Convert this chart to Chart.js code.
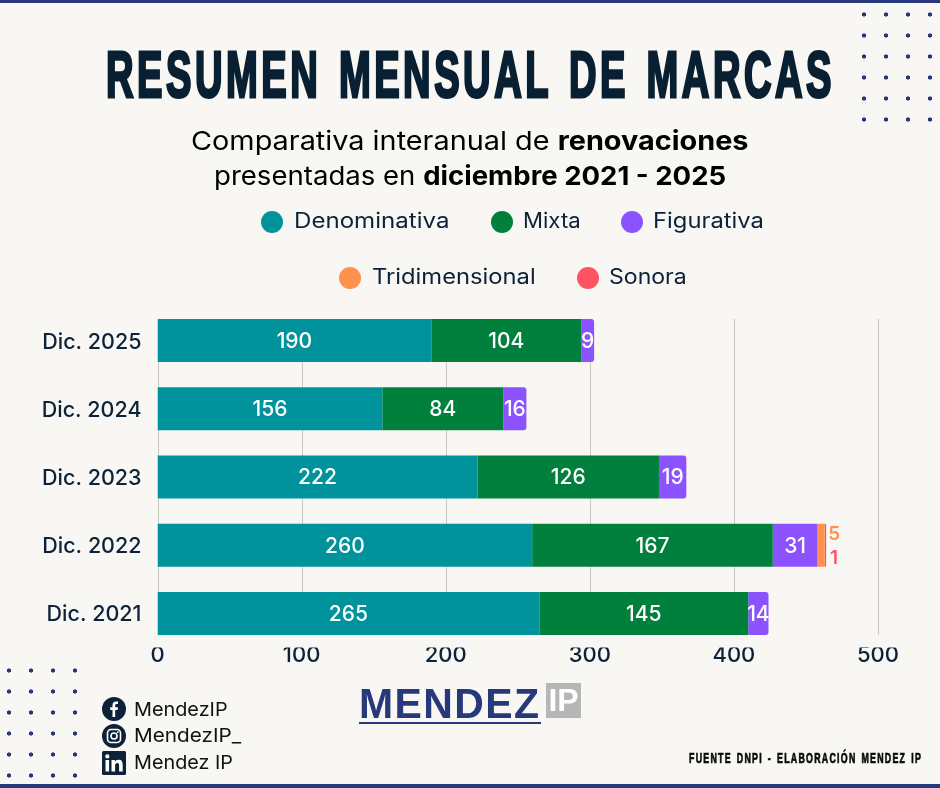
<!DOCTYPE html>
<html lang="es">
<head>
<meta charset="utf-8">
<title>Resumen mensual de marcas</title>
<script src="https://cdn.jsdelivr.net/npm/chart.js@4"></script>
<style>
  html, body { margin: 0; padding: 0; }
  body { width: 940px; height: 788px; position: relative; overflow: hidden; background: #f9f7f4; font-family: Inter, sans-serif; color: #0b2239; }
  .abs { position: absolute; white-space: nowrap; }
  .band { position: absolute; left: 0; width: 940px; background: #27397a; }
  .dots { position: absolute; width: 88px; height: 126px; background: radial-gradient(circle, #27397a 1.8px, transparent 2.4px); background-size: 22px 21px; }
  #title { left: 106px; top: 37px; transform-origin: 0 50%; font: 700 65px "Liberation Sans Narrow", "Liberation Sans", sans-serif; color: #082032; -webkit-text-stroke: 3px #082032; letter-spacing: 6px; word-spacing: 6px; }
  .sub { font-size: 26px; color: #000; transform-origin: 0 50%; line-height: 36px; }
  .sub b { font-weight: 700; }
  .leg-dot { position: absolute; width: 22px; height: 22px; border-radius: 50%; }
  .leg-txt { font-size: 21px; line-height: 28px; transform-origin: 0 50%; }
  .social { font-size: 19px; line-height: 24px; color: #111; transform-origin: 0 50%; }
  #logo { left: 359px; top: 679px; font: 700 43px/48px "Liberation Sans", sans-serif; color: #27397a; letter-spacing: 1.5px; transform-origin: 0 50%; }
  #logo-rule { position: absolute; left: 359px; top: 722px; width: 182px; height: 2px; background: #27397a; }
  #logo-ip { position: absolute; left: 546px; top: 683px; width: 35px; height: 35px; background: #b5b7b6; color: #fff; font: 700 32px/35px "Liberation Sans Narrow", "Liberation Sans", sans-serif; text-align: center; }
  #source { left: 689px; top: 750px; font: 700 14px/16px "Liberation Sans Narrow", "Liberation Sans", sans-serif; color: #0a0a0a; -webkit-text-stroke: .7px #0a0a0a; letter-spacing: 2px; word-spacing: 2px; transform-origin: 0 50%; }
  #chart { position: absolute; left: 0; top: 0; }
</style>
</head>
<body>
<canvas id="chart" width="940" height="788"></canvas>

<div class="band" style="top:0;height:3px"></div>
<div class="band" style="top:784px;height:4px"></div>
<div class="dots" style="left:853px;top:4px"></div>
<div class="dots" style="left:-2px;top:660px"></div>

<div class="abs" id="title" data-fit="729">RESUMEN MENSUAL DE MARCAS</div>
<div class="abs sub" style="left:191px;top:123px" data-fit="558">Comparativa interanual de <b>renovaciones</b></div>
<div class="abs sub" style="left:214px;top:158px" data-fit="512">presentadas en <b>diciembre 2021 - 2025</b></div>

<div id="legend"></div>

<svg class="abs" style="left:102px;top:697px" width="24" height="78" viewBox="0 0 24 78">
  <circle cx="12" cy="12" r="12" fill="#0b2239"/>
  <path d="M13.2 20v-7h2.4l.4-2.8h-2.8V8.5c0-.8.3-1.4 1.4-1.4H16V4.6c-.3 0-1.1-.1-2-.1-2.1 0-3.5 1.3-3.5 3.6v2.1H8.2V13h2.3v7z" fill="#fff"/>
  <circle cx="12" cy="39" r="12" fill="#0b2239"/>
  <rect x="5.5" y="32.5" width="13" height="13" rx="3.5" fill="none" stroke="#fff" stroke-width="1.6"/>
  <circle cx="12" cy="39" r="3" fill="none" stroke="#fff" stroke-width="1.6"/>
  <circle cx="15.8" cy="35.2" r=".9" fill="#fff"/>
  <rect x="0" y="54" width="24" height="24" rx="1.5" fill="#0b2239"/>
  <rect x="3.5" y="63" width="3.6" height="11.5" fill="#fff"/>
  <circle cx="5.3" cy="59.4" r="2.1" fill="#fff"/>
  <path d="M9.5 63h3.4v1.6c.6-1 1.8-1.9 3.6-1.9 3.3 0 4.2 2.1 4.2 5v6.8h-3.6v-6c0-1.5-.4-2.6-1.7-2.6-1.5 0-2.3 1-2.3 2.7v5.9H9.5z" fill="#fff"/>
</svg>
<div class="abs social" style="left:134px;top:698px" data-fit="94">MendezIP</div>
<div class="abs social" style="left:134px;top:724px" data-fit="107">MendezIP_</div>
<div class="abs social" style="left:134px;top:751px" data-fit="99">Mendez IP</div>

<div class="abs" id="logo" data-fit="182">MENDEZ</div>
<div id="logo-rule"></div>
<div id="logo-ip">IP</div>

<div class="abs" id="source" data-fit="233">FUENTE DNPI - ELABORACIÓN MENDEZ IP</div>

<script>
// Datos de renovaciones por año y tipo de marca
const years = ['Dic. 2025', 'Dic. 2024', 'Dic. 2023', 'Dic. 2022', 'Dic. 2021'];
const denominativa = [190, 156, 222, 260, 265];
const mixta = [104, 84, 126, 167, 145];
const figurativa = [9, 16, 19, 31, 14];
const tridimensional = [0, 0, 0, 5, 0];
const sonora = [0, 0, 0, 1, 0];
const xTicks = [0, 100, 200, 300, 400, 500];

const seriesNames = ['Denominativa', 'Mixta', 'Figurativa', 'Tridimensional', 'Sonora'];
const seriesColors = ['#00939c', '#00803c', '#8c52ff', '#ff914d', '#ff5263'];
const seriesValues = [denominativa, mixta, figurativa, tridimensional, sonora];

// Posición de cada entrada de la leyenda: [x punto, x texto, y centro, ancho texto]
const legendSlots = [[261, 294, 222, 156], [491, 523, 222, 58], [621, 653, 222, 111], [339, 372, 278, 164], [577, 609, 278, 78]];

const ink = '#0b2239';
const chartFont = 'Inter, sans-serif';

// Arma la leyenda en dos filas
const legend = document.getElementById('legend');
seriesNames.forEach((name, i) => {
    const [dotX, txtX, cy, w] = legendSlots[i];
    legend.insertAdjacentHTML('beforeend',
        `<div class="leg-dot" style="left:${dotX}px;top:${cy - 11}px;background:${seriesColors[i]}"></div>
         <div class="abs leg-txt" style="left:${txtX}px;top:${cy - 15}px" data-fit="${w}">${name}</div>`);
});

// Ajusta el ancho de los textos al espacio que tienen
document.querySelectorAll('[data-fit]').forEach(el => {
    const target = Number(el.dataset.fit);
    el.style.transform = `scaleX(${target / el.offsetWidth})`;
});

// Último tramo con valor de cada barra (lleva las esquinas redondeadas)
function lastSeries(row){
    let last = 0;
    seriesValues.forEach((s, i) => { if(s[row] > 0) last = i; });
    return last;
}

// Líneas de la grilla más cortas que el área del gráfico
const shortGrid = {
    id: 'shortGrid',
    beforeDatasetsDraw(chart){
        const { ctx, chartArea, scales } = chart;
        ctx.save();
        ctx.strokeStyle = '#c9c8c5';
        ctx.lineWidth = 1;
        xTicks.forEach(t => {
            const x = Math.round(scales.x.getPixelForValue(t)) + 0.5;
            ctx.beginPath();
            ctx.moveTo(x, chartArea.top + 12.5);
            ctx.lineTo(x, chartArea.bottom - 12.5);
            ctx.stroke();
        });
        ctx.restore();
    }
};

// Etiquetas de valor: blancas dentro de la barra, de color al lado en los tramos mínimos
const valueLabels = {
    id: 'valueLabels',
    afterDatasetsDraw(chart){
        const { ctx } = chart;
        ctx.save();
        ctx.textAlign = 'center';
        ctx.textBaseline = 'middle';
        chart.data.datasets.forEach((ds, d) => {
            chart.getDatasetMeta(d).data.forEach((bar, i) => {
                const v = ds.data[i];
                if(!v) return;
                let x = (bar.x + bar.base) / 2;
                let y = bar.y + 1;
                ctx.font = '500 21px ' + chartFont;
                ctx.fillStyle = '#fff';
                if(d >= 3){
                    ctx.font = '600 19px ' + chartFont;
                    ctx.fillStyle = seriesColors[d];
                    x = chart.scales.x.getPixelForValue(464) + 8;
                    y += d == 3 ? -12 : 12;
                }
                ctx.fillText(v, x, y);
            });
        });
        ctx.restore();
    }
};

new Chart(document.getElementById('chart'), {
    type: 'bar',
    data: {
        labels: years,
        datasets: seriesNames.map((name, i) => ({
            label: name,
            data: seriesValues[i],
            backgroundColor: seriesColors[i],
            borderWidth: 0,
            borderSkipped: false,
            barPercentage: 0.63,
            categoryPercentage: 1,
            borderRadius: c => lastSeries(c.dataIndex) == i
                ? { topLeft: 0, bottomLeft: 0, topRight: 3, bottomRight: 3 }
                : 0
        }))
    },
    options: {
        indexAxis: 'y',
        responsive: false,
        animation: false,
        layout: { padding: { top: 306.5, right: 62, bottom: 0, left: 0 } },
        plugins: { legend: { display: false }, tooltip: { enabled: false } },
        scales: {
            x: {
                stacked: true,
                min: 0,
                max: 500,
                grid: { display: false },
                border: { display: false },
                afterFit: s => { s.height = 140.5; },
                ticks: { stepSize: 100, padding: -13, maxRotation: 0, color: ink, font: { family: chartFont, size: 22, weight: '500' } }
            },
            y: {
                stacked: true,
                grid: { display: false },
                border: { display: false },
                afterFit: s => { s.width = 157.5; },
                ticks: { padding: 8, labelOffset: 1.5, color: ink, font: { family: chartFont, size: 21.5, weight: '500' } }
            }
        }
    },
    plugins: [shortGrid, valueLabels]
});
</script>
</body>
</html>
